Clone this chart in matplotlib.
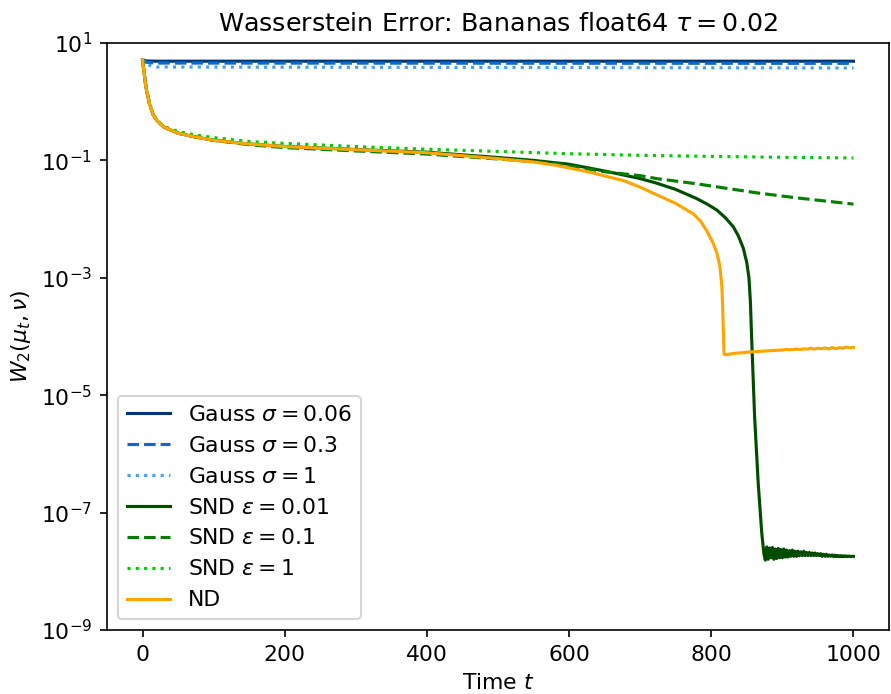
import numpy as np
import matplotlib
matplotlib.use("Agg")
import matplotlib.pyplot as plt

plt.rcParams["font.size"] = 10.5

# Gauss kernels
t_gauss = [0, 5, 20, 1000]
gauss_006 = [5.2, 4.95, 4.9, 4.9]
gauss_03 = [5.2, 4.7, 4.55, 4.5]
gauss_1 = [5.2, 4.3, 3.9, 3.75]

# common early part of the ND / SND curves
t_early = [0, 2, 5, 10, 15, 20, 30, 50, 75, 100]
w_early = [5.2, 3.2, 1.7, 0.9, 0.6, 0.48, 0.37, 0.29, 0.25, 0.22]

# ND
t_nd = [150, 200, 300, 400, 500, 550, 583, 629, 677, 700, 723, 750, 775, 785, 794, 803, 808,
        812, 815, 816, 817, 818]
w_nd = [0.19, 0.172, 0.152, 0.135, 0.107, 0.094, 0.082, 0.063, 0.045, 0.035, 0.026, 0.0185,
        0.0122, 0.0092, 0.0062, 0.0038, 0.0026, 0.0016, 7e-4, 3e-4, 1.2e-4, 5e-5]
t_nd_tail = np.arange(820, 1001, 5)
w_nd_tail = [4.9e-5, 5.0e-5, 5.1e-5, 5.2e-5, 5.25e-5, 5.3e-5, 5.4e-5, 5.45e-5, 5.5e-5, 5.55e-5,
             5.6e-5, 5.65e-5, 5.7e-5, 5.75e-5, 5.8e-5, 5.85e-5, 5.9e-5, 6.0e-5, 5.95e-5, 6.0e-5,
             6.1e-5, 6.0e-5, 6.15e-5, 6.1e-5, 6.3e-5, 6.1e-5, 6.3e-5, 6.2e-5, 6.4e-5, 6.1e-5,
             6.5e-5, 6.2e-5, 6.45e-5, 6.3e-5, 6.6e-5, 6.4e-5, 6.5e-5]

# SND eps = 0.01
t_snd001 = [150, 200, 300, 400, 500, 550, 600, 650, 700, 723, 750, 779, 795, 808, 820, 831, 838,
            845, 850, 853, 855, 857, 861, 866, 871, 874]
w_snd001 = [0.19, 0.173, 0.153, 0.138, 0.112, 0.100, 0.086, 0.066, 0.049, 0.041, 0.032, 0.0225,
            0.0178, 0.0142, 0.0105, 0.0074, 0.0052, 0.0032, 0.0018, 0.001, 4e-4, 8e-5,
            4.2e-6, 3.2e-7, 4.5e-8, 2.0e-8]
t_snd001_tail = np.arange(876, 1001, 2)
w_snd001_tail = [1.55e-8, 2.6e-8, 1.6e-8, 2.5e-8, 1.7e-8, 2.55e-8, 1.6e-8, 2.4e-8, 1.65e-8, 2.45e-8,
                 1.7e-8, 2.35e-8, 1.7e-8, 2.4e-8, 1.75e-8, 2.3e-8, 1.75e-8, 2.25e-8, 1.8e-8, 2.3e-8,
                 1.8e-8, 2.2e-8, 1.8e-8, 2.2e-8, 1.85e-8, 2.15e-8, 1.85e-8, 2.2e-8, 1.85e-8, 2.1e-8,
                 1.85e-8, 2.1e-8, 1.85e-8, 2.05e-8, 1.85e-8, 2.05e-8, 1.85e-8, 2.0e-8, 1.85e-8, 2.0e-8,
                 1.8e-8, 1.95e-8, 1.8e-8, 1.95e-8, 1.8e-8, 1.9e-8, 1.8e-8, 1.9e-8, 1.78e-8, 1.88e-8,
                 1.78e-8, 1.86e-8, 1.78e-8, 1.85e-8, 1.78e-8, 1.84e-8, 1.78e-8, 1.83e-8, 1.78e-8,
                 1.82e-8, 1.78e-8, 1.8e-8, 1.8e-8]

# SND eps = 0.1
t_snd01 = [150, 200, 300, 400, 470, 533, 583, 650, 700, 723, 779, 864, 920, 1000]
w_snd01 = [0.185, 0.165, 0.145, 0.128, 0.112, 0.099, 0.087, 0.064, 0.055, 0.049, 0.040, 0.028,
           0.023, 0.018]

# SND eps = 1
t_snd1 = [30, 50, 75, 100, 150, 200, 300, 400, 500, 600, 700, 800, 900, 1000]
w_snd1 = [0.38, 0.31, 0.27, 0.245, 0.21, 0.195, 0.172, 0.155, 0.142, 0.13, 0.122, 0.117, 0.113, 0.11]

fig = plt.figure(figsize=(891 / 150, 694 / 150), dpi=150)
ax = fig.add_axes([107 / 891, 64 / 694, 782 / 891, 587 / 694])

ax.plot(t_gauss, gauss_006, color="#003775", ls="-", label=r"Gauss $\sigma = 0.06$")
ax.plot(t_gauss, gauss_03, color="#0a6ad0", ls="--", label=r"Gauss $\sigma = 0.3$")
ax.plot(t_gauss, gauss_1, color="#3ea0ff", ls=":", label=r"Gauss $\sigma = 1$")
ax.plot(t_early + t_snd001 + list(t_snd001_tail), w_early + w_snd001 + w_snd001_tail,
        color="#004d00", ls="-", label=r"SND $\varepsilon = 0.01$")
ax.plot(t_early + t_snd01, w_early + w_snd01, color="#008000", ls="--",
        label=r"SND $\varepsilon = 0.1$")
ax.plot(t_early[:6] + t_snd1, w_early[:6] + w_snd1, color="#00cc00", ls=":",
        label=r"SND $\varepsilon = 1$")
ax.plot(t_early + t_nd + list(t_nd_tail), w_early + w_nd + w_nd_tail, color="orange",
        ls="-", label="ND")

ax.set_yscale("log")
ax.set_ylim(1e-9, 1e1)
ax.set_xlim(-50, 1050)
ax.set_yticks([1e1, 1e-1, 1e-3, 1e-5, 1e-7, 1e-9])
ax.yaxis.set_minor_locator(matplotlib.ticker.NullLocator())
ax.set_xticks([0, 200, 400, 600, 800, 1000])
ax.set_title(r"Wasserstein Error: Bananas float64 $\tau = 0.02$", fontsize=12.2)
ax.set_xlabel("Time $t$")
ax.set_ylabel(r"$W_2(\mu_t,\nu)$")
ax.legend(loc="lower left")

fig.savefig("out.png", dpi=150)
